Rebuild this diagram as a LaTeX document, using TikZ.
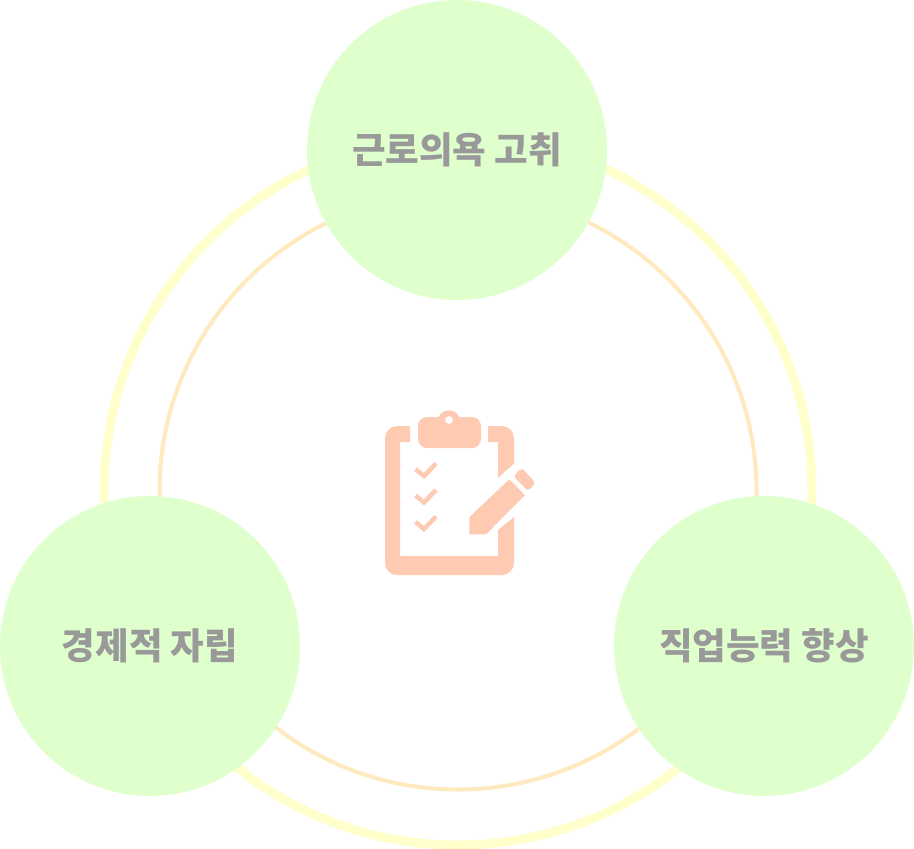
\documentclass[tikz,border=0pt]{standalone}
\usepackage{fontspec}
\newfontfamily\krfont{Noto Sans CJK KR}
\usepackage{tikz}
\definecolor{ringouter}{HTML}{FFFFCC}
\definecolor{ringinner}{HTML}{FFE9BF}
\definecolor{bubblegreen}{HTML}{DFFFCC}
\definecolor{labelgray}{HTML}{999999}
\definecolor{iconpeach}{HTML}{FFCAB2}
\tikzset{
	bubble/.style={shape=circle, fill=bubblegreen, minimum size=300pt, inner sep=0pt, text=labelgray, font=\krfont\bfseries\fontsize{36.5}{42}\selectfont},
	iconfill/.style={fill=iconpeach, draw=none},
	tick/.style={draw=iconpeach, line width=4.5pt}
}

\begin{document}
\begin{tikzpicture}[x=1pt, y=-1pt]
	\useasboundingbox (0, 0) rectangle (914, 849);
	% Rings:
	\coordinate (C) at (458, 491);
	\draw[ringouter, line width=9pt] (C) circle[radius=354pt];
	\draw[ringinner, line width=4pt] (C) circle[radius=298.5pt];
	% Bubbles:
	\node[bubble](N1) at (457, 150){근로의욕 고취};
	\node[bubble](N2) at (150, 646){경제적 자립};
	\node[bubble](N3) at (764, 646){직업능력 향상};
	% Clipboard:
	\fill[iconfill, rounded corners=12pt] (410, 426) -- (385, 426) -- (385, 575) -- (514, 575) [sharp corners] -- (514, 517) -- (498, 530) -- (498, 556) -- (400, 556) -- (400, 442) -- (410, 442) -- cycle;
	\fill[iconfill] (488, 426) -- (502, 426) arc[start angle=90, end angle=0, radius=12pt] -- (514, 463.5) -- (498, 478) -- (498, 442) -- (488, 442) -- cycle;
	\fill[iconfill, even odd rule] (418, 426) arc[start angle=180, end angle=90, radius=9pt] -- (438.5, 417) arc[start angle=155, end angle=25, radius=11.5pt] -- (472, 417) arc[start angle=90, end angle=0, radius=9pt] -- (481, 439) arc[start angle=0, end angle=-90, radius=9pt] -- (427, 448) arc[start angle=270, end angle=180, radius=9pt] -- cycle (449, 420) circle[radius=4pt];
	% Checks:
	\foreach \ty in {0, 26.5, 53}
		\draw[tick] (415.5, 469 + \ty) -- (424, 476 + \ty) -- (436, 463.5 + \ty);
	% Pencil:
	\fill[iconfill] (469.3, 517.3) -- (509.3, 479.3) -- (525, 495) -- (486, 534.3) -- (469.3, 534.3) -- cycle;
	\fill[iconfill, rounded corners=3pt] (513.3, 476) -- (522, 468) -- (535.5, 483) -- (528, 491) -- cycle;
\end{tikzpicture}
\end{document}
